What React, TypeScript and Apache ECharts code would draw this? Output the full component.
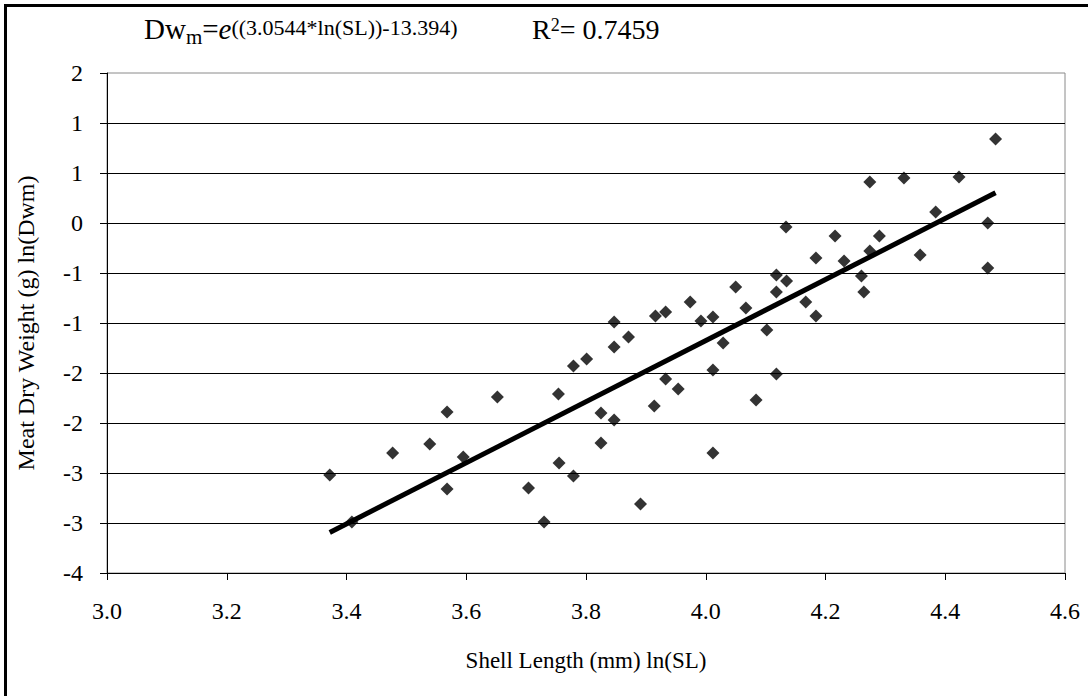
import { useEffect, useRef } from "react";
import * as echarts from "echarts";

// ln(Shell Length) values
const lnSL = [
  3.372, 3.409, 3.477, 3.539, 3.568, 3.568, 3.595, 3.652, 3.704, 3.730,
  3.754, 3.755, 3.779, 3.779, 3.801, 3.825, 3.825, 3.847, 3.847, 3.847,
  3.871, 3.891, 3.914, 3.916, 3.933, 3.933, 3.954, 3.974, 3.992, 4.012,
  4.012, 4.012, 4.029, 4.050, 4.067, 4.084, 4.102, 4.118, 4.118, 4.135,
  4.118, 4.134, 4.167, 4.184, 4.184, 4.216, 4.231, 4.260, 4.264, 4.274,
  4.274, 4.290, 4.331, 4.358, 4.384, 4.423, 4.471, 4.471, 4.484,
];
// ln(Meat Dry Weight) values
const lnDwm = [
  -2.52, -2.99, -2.30, -2.21, -1.89, -2.66, -2.34, -1.74, -2.65, -2.99,
  -1.71, -2.40, -1.43, -2.53, -1.36, -1.90, -2.20, -0.99, -1.24, -1.97,
  -1.14, -2.81, -1.83, -0.93, -0.89, -1.56, -1.66, -0.79, -0.98, -0.94,
  -1.47, -2.30, -1.20, -0.64, -0.85, -1.77, -1.07, -0.52, -0.69, -0.58,
  -1.51, -0.04, -0.79, -0.35, -0.93, -0.13, -0.38, -0.53, -0.69, 0.41,
  -0.28, -0.13, 0.45, -0.32, 0.11, 0.46, 0.0, -0.45, 0.84,
];
// trend line end points
const trendX = [3.372, 4.484];
const trendY = [-3.094, 0.302];

// axis tick labels as printed (Excel-rounded)
const xMin = 3.0;
const xStep = 0.2;
const xTickLabels = ["3.0", "3.2", "3.4", "3.6", "3.8", "4.0", "4.2", "4.4", "4.6"];
const yMin = -3.5;
const yStep = 0.5;
const yTickLabels = ["-4", "-3", "-3", "-2", "-2", "-1", "-1", "0", "1", "1", "2"];

const FONT = "'Liberation Serif', 'Times New Roman', serif";

export default function App() {
  const ref = useRef<HTMLDivElement>(null);

  useEffect(() => {
    document.body.style.margin = "0";
    if (!ref.current) return;
    const chart = echarts.init(ref.current, undefined, { renderer: "svg" });
    const xMax = xMin + xStep * (xTickLabels.length - 1);
    const yMax = yMin + yStep * (yTickLabels.length - 1);

    chart.setOption({
      animation: false,
      backgroundColor: "#ffffff",
      grid: {
        left: 107,
        right: 23,
        top: 73,
        bottom: 123,
        show: true,
        borderColor: "#8a8a8a",
        borderWidth: 1,
        backgroundColor: "transparent",
      },
      xAxis: {
        type: "value",
        min: xMin,
        max: xMax,
        interval: xStep,
        axisLine: { show: true, onZero: false, lineStyle: { color: "#000", width: 1 } },
        axisTick: { show: true, length: 7, lineStyle: { color: "#000", width: 1 } },
        axisLabel: {
          margin: 26,
          fontSize: 24,
          fontFamily: FONT,
          color: "#000",
          formatter: (v: number) => xTickLabels[Math.round((v - xMin) / xStep)] ?? "",
        },
        splitLine: { show: false },
      },
      yAxis: {
        type: "value",
        min: yMin,
        max: yMax,
        interval: yStep,
        axisLine: { show: true, onZero: false, lineStyle: { color: "#000", width: 1 } },
        axisTick: { show: true, length: 7, lineStyle: { color: "#000", width: 1 } },
        axisLabel: {
          margin: 24,
          fontSize: 24,
          fontFamily: FONT,
          color: "#000",
          formatter: (v: number) => yTickLabels[Math.round((v - yMin) / yStep)] ?? "",
        },
        splitLine: { show: true, showMaxLine: false, lineStyle: { color: "#000", width: 1 } },
      },
      series: [
        {
          type: "scatter",
          data: lnSL.map((x, i) => [x, lnDwm[i]]),
          symbol: "diamond",
          symbolSize: 13,
          itemStyle: { color: "#000" },
          z: 3,
        },
        {
          type: "line",
          data: trendX.map((x, i) => [x, trendY[i]]),
          symbol: "none",
          lineStyle: { color: "#000", width: 5 },
          z: 4,
        },
      ],
      graphic: [
        {
          type: "polyline",
          shape: { points: [[5.5, 696], [5.5, 5.5], [1088, 5.5]] },
          style: { stroke: "#000", lineWidth: 3, fill: "none" },
          silent: true,
        },
        {
          type: "text",
          x: 144,
          y: 29,
          style: {
            text: "{m|Dw}{sub|m}{m|=}{it|e}{sup|((3.0544*ln(SL))-13.394)}",
            align: "left",
            verticalAlign: "middle",
            fill: "#000",
            fontFamily: FONT,
            rich: {
              m: { fontSize: 29, fontFamily: FONT, fill: "#000", lineHeight: 34, verticalAlign: "middle" },
              it: { fontSize: 29, fontFamily: FONT, fontStyle: "italic", fill: "#000", lineHeight: 34, verticalAlign: "middle" },
              sub: { fontSize: 21, fontFamily: FONT, fill: "#000", lineHeight: 21, padding: [15, 0, 0, 0], verticalAlign: "middle" },
              sup: { fontSize: 22, fontFamily: FONT, fill: "#000", lineHeight: 22, padding: [0, 0, 4, 0], verticalAlign: "middle" },
            },
          },
        },
        {
          type: "text",
          x: 532,
          y: 29,
          style: {
            text: "{m|R}{sup|2}{m|= 0.7459}",
            align: "left",
            verticalAlign: "middle",
            fill: "#000",
            fontFamily: FONT,
            rich: {
              m: { fontSize: 28, fontFamily: FONT, fill: "#000", lineHeight: 34, verticalAlign: "middle" },
              sup: { fontSize: 18, fontFamily: FONT, fill: "#000", lineHeight: 18, padding: [0, 0, 8, 0], verticalAlign: "middle" },
            },
          },
        },
        {
          type: "text",
          x: 586,
          y: 660,
          style: {
            text: "Shell Length (mm) ln(SL)",
            align: "center",
            verticalAlign: "middle",
            fontSize: 23,
            fontFamily: FONT,
            fill: "#000",
          },
        },
        {
          type: "text",
          x: 26,
          y: 323,
          rotation: Math.PI / 2,
          style: {
            text: "Meat Dry Weight (g) ln(Dwm)",
            align: "center",
            verticalAlign: "middle",
            fontSize: 24,
            fontFamily: FONT,
            fill: "#000",
          },
        },
      ],
    });

    return () => {
      chart.dispose();
    };
  }, []);

  return <div ref={ref} style={{ width: 1088, height: 696 }} />;
}
